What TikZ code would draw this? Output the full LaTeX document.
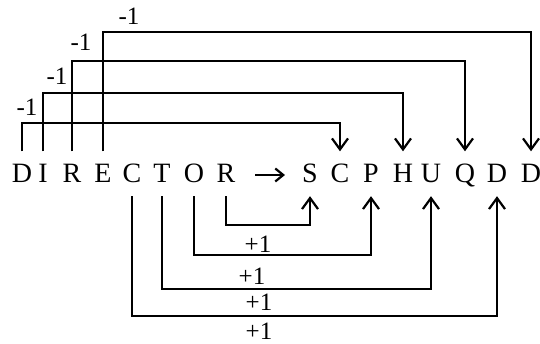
\documentclass[tikz,border=0pt]{standalone}
\usepackage{fontspec}
\setmainfont{Liberation Serif}
\usetikzlibrary{arrows.meta}
\begin{document}
\begin{tikzpicture}[x=1pt,y=1pt,
  letter/.style={font=\fontsize{28}{28}\selectfont, anchor=base, inner xsep=0pt,
    inner ysep=13pt, text height=18.5pt, text depth=0pt},
  delta/.style={font=\fontsize{25}{25}\selectfont, inner sep=0pt},
  link/.style={line width=2.2pt, -{Straight Barb[length=11pt,width=16pt,line width=2.2pt]}}]
\useasboundingbox (0,0) rectangle (540,344);

% the word and its code
\node[letter] (id) at (22,161) {D};
\node[letter] (ii) at (43,161) {I};
\node[letter] (ir) at (72,161) {R};
\node[letter] (ie) at (103,161) {E};
\node[letter] (ic) at (132,161) {C};
\node[letter] (it) at (162,161) {T};
\node[letter] (io) at (194,161) {O};
\node[letter] (ir2) at (226,161) {R};
\node[letter] (os) at (310,161) {S};
\node[letter] (oc) at (340,161) {C};
\node[letter] (op) at (371,161) {P};
\node[letter] (oh) at (403,161) {H};
\node[letter] (ou) at (431,161) {U};
\node[letter] (oq) at (465,161) {Q};
\node[letter] (od) at (497,161) {D};
\node[letter] (od2) at (531,161) {D};
\coordinate (ra) at (255,169);
\coordinate (rb) at (285,169);
\draw[line width=2.2pt, -{Straight Barb[length=8pt,width=13pt,line width=2.2pt]}] (ra) -- (rb);

% letters moved back by one
\draw[link] (id.north) -- ++(0,28.5) -| (oc.north);
\draw[link] (ii.north) -- ++(0,58.5) -| (oh.north);
\draw[link] (ir.north) -- ++(0,90.5) -| (oq.north);
\draw[link] (ie.north) -- ++(0,119.5) -| (od2.north);
\node[delta] (m1) at (27,237) {-1};
\node[delta] (m2) at (57,268) {-1};
\node[delta] (m3) at (81,302) {-1};
\node[delta] (m4) at (129,328) {-1};

% letters moved on by one
\draw[link] (ir2.south) -- ++(0,-28.5) -| (os.south);
\draw[link] (io.south) -- ++(0,-58.5) -| (op.south);
\draw[link] (it.south) -- ++(0,-92.5) -| (ou.south);
\draw[link] (ic.south) -- ++(0,-119.5) -| (od.south);
\node[delta] (p1) at (258,100) {+1};
\node[delta] (p2) at (252,68) {+1};
\node[delta] (p3) at (259,42) {+1};
\node[delta] (p4) at (259,13) {+1};
\end{tikzpicture}
\end{document}
